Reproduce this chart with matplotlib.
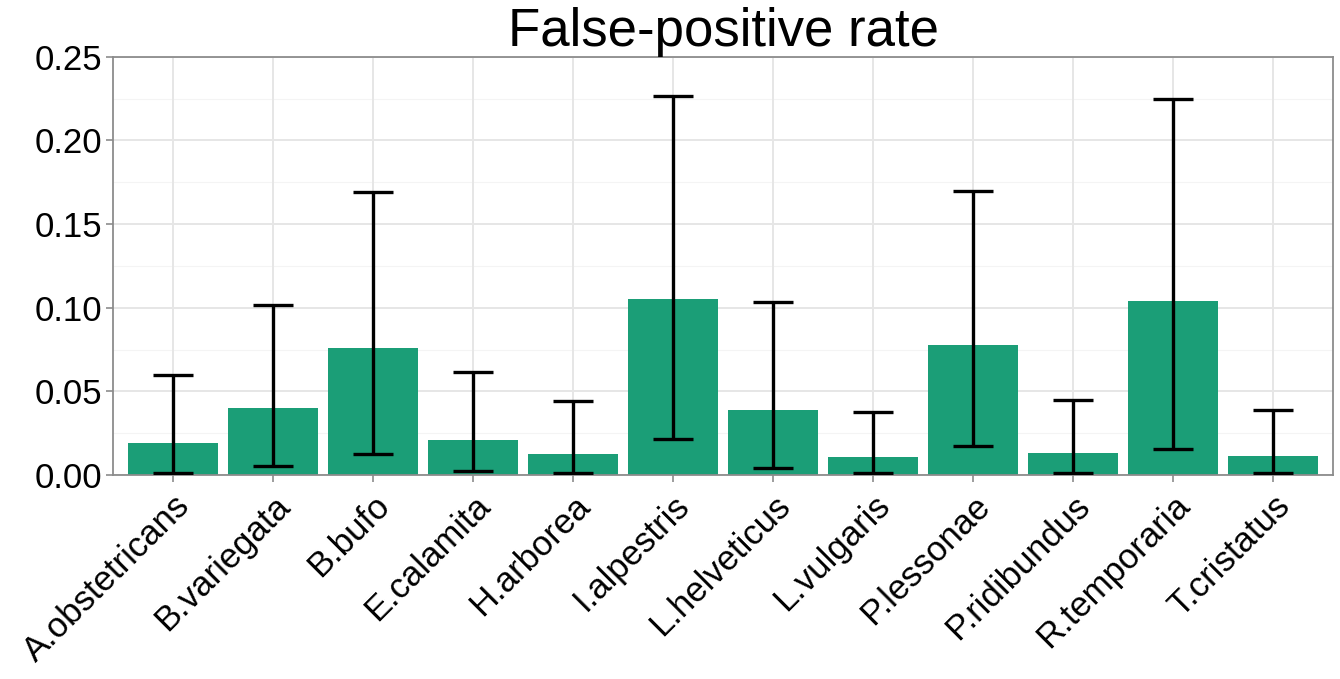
import matplotlib
matplotlib.use("Agg")
import matplotlib.pyplot as plt
import numpy as np

species = ["A.obstetricans", "B.variegata", "B.bufo", "E.calamita", "H.arborea",
           "I.alpestris", "L.helveticus", "L.vulgaris", "P.lessonae", "P.ridibundus",
           "R.temporaria", "T.cristatus"]
rate = [0.019, 0.040, 0.0758, 0.021, 0.0124, 0.105, 0.0388, 0.0106, 0.0776, 0.0134, 0.104, 0.0116]
lower = [0.0014, 0.0052, 0.0126, 0.0024, 0.0014, 0.0214, 0.0044, 0.0014, 0.0174, 0.0014, 0.0156, 0.0014]
upper = [0.060, 0.1014, 0.1692, 0.0618, 0.044, 0.2268, 0.1032, 0.0374, 0.170, 0.0446, 0.2248, 0.039]
yticks = [0.00, 0.05, 0.10, 0.15, 0.20, 0.25]
ytick_labels = ["0.00", "0.05", "0.10", "0.15", "0.20", "0.25"]

plt.rcParams['font.family'] = ['Liberation Sans', 'DejaVu Sans']

fig = plt.figure(figsize=(13.4, 6.79), dpi=100)
ax = fig.add_axes([113/1340, 1-475/679, (1333-113)/1340, (475-56.7)/679])

x = np.arange(len(species))
ax.set_axisbelow(True)
# minor grid
for v in [0.025, 0.075, 0.125, 0.175, 0.225]:
    ax.axhline(v, color='#F4F4F4', lw=0.8, zorder=0)
ax.grid(True, which='major', color='#E6E6E6', lw=1.4, zorder=0)

ax.bar(x, rate, width=0.9, color='#1B9E77', zorder=2)
ax.vlines(x, lower, upper, color='black', lw=2.4, zorder=3)
ax.hlines(lower, x - 0.2, x + 0.2, color='black', lw=2.4, zorder=3)
ax.hlines(upper, x - 0.2, x + 0.2, color='black', lw=2.4, zorder=3)

ax.set_xlim(-0.6, len(species) - 0.4)
ax.set_ylim(0, 0.25)
ax.set_yticks(yticks)
ax.set_yticklabels(ytick_labels, fontsize=25)
ax.set_xticks(x)
ax.set_xticklabels(species, rotation=45, ha='right', rotation_mode='anchor', fontsize=25)
ax.tick_params(axis='both', color='#8C8C8C', length=5, width=1.2, labelcolor='black')
ax.tick_params(axis='y', pad=3)
ax.tick_params(axis='x', pad=5)
for s in ax.spines.values():
    s.set_color('#8C8C8C')
    s.set_linewidth(1.3)

ax.set_title("False-positive rate", fontsize=38, pad=6)

fig.savefig("out.png", dpi=100)
